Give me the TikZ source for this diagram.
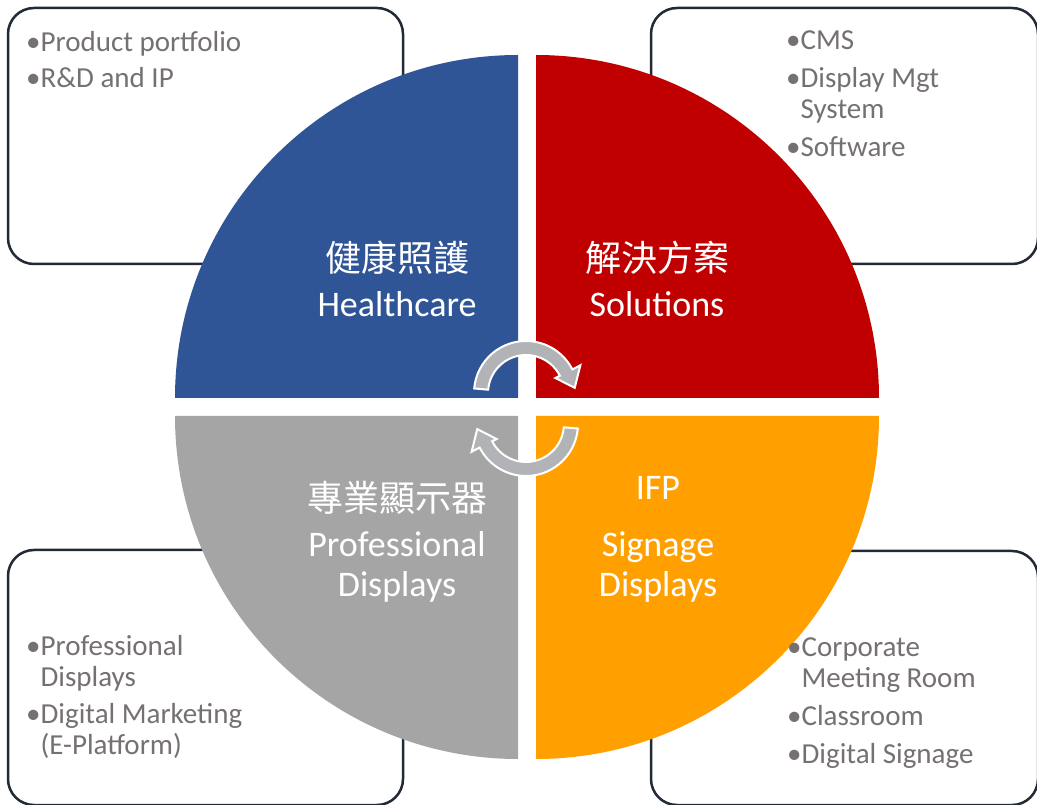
\documentclass[tikz,border=0pt]{standalone}
\usepackage{fontspec}
\setmainfont{Carlito}
\newfontfamily\cjkfont{Noto Sans CJK TC}
\usetikzlibrary{positioning}

\definecolor{hcBlue}{HTML}{2F5597}
\definecolor{solRed}{HTML}{C00000}
\definecolor{proGray}{HTML}{A5A5A5}
\definecolor{ifpOrange}{HTML}{FFA000}
\definecolor{boxLine}{HTML}{222A35}
\definecolor{itemGray}{HTML}{767171}
\definecolor{cycleGray}{HTML}{B1B3B6}

\tikzset{
  infobox/.style={draw=boxLine, line width=2.5pt, rounded corners=26pt, fill=white},
  itemtext/.style={text=itemGray, font=\fontsize{29}{31}\selectfont, align=left, anchor=base west, inner sep=0pt},
  titletext/.style={text=white, font=\fontsize{36}{40}\selectfont, align=center, anchor=base, inner sep=0pt},
  cyclearrow/.pic={
    \filldraw[fill=cycleGray, draw=white, line width=2pt]
      (175:52) arc[start angle=175, end angle=27, radius=52] -- (27:61) -- (6:49) -- (27:33)
      -- (27:38) arc[start angle=27, end angle=175, radius=38] -- cycle;
  }
}

\begin{document}
\begin{tikzpicture}[x=1pt, y=1pt]
\clip (0,0) rectangle (1037,804);

\draw[infobox] (8,540) rectangle (403,796);
\draw[infobox] (651,540) rectangle (1038,796);
\draw[infobox] (8,-1) rectangle (403,254);
\draw[infobox] (651,-1) rectangle (1038,253);

\fill[hcBlue] (518,406) -- (175,406) arc[start angle=180, end angle=90, radius=343] -- cycle;
\fill[solRed] (536,406) -- (536,749) arc[start angle=90, end angle=0, radius=343] -- cycle;
\fill[proGray] (518,388) -- (518,45) arc[start angle=270, end angle=180, radius=343] -- cycle;
\fill[ifpOrange] (536,388) -- (879,388) arc[start angle=0, end angle=-90, radius=343] -- cycle;

\pic at (526,411) {cyclearrow};
\pic[rotate=180] at (526,380) {cyclearrow};

\node[titletext] (HealthTitle) at (397,487) {{\cjkfont 健康照護}\\[5pt]Healthcare};
\node[titletext] (SolTitle) at (657,487) {{\cjkfont 解決方案}\\[5pt]Solutions};
\node[titletext] (ProTitle) at (397,207) {{\cjkfont 專業顯示器}\\[6pt]Professional\\Displays};
\node[titletext] (IfpTitle) at (658,207) {IFP\\[17pt]Signage\\Displays};

\node[itemtext] (HealthItems) at (26,716) {•Product portfolio\\[5pt]•R\&D and IP};
\node[itemtext] (SolItems) at (786,647) {•CMS\\[7pt]•Display Mgt\\\phantom{•}System\\[7pt]•Software};
\node[itemtext] (ProItems) at (26,49) {•Professional\\\phantom{•}Displays\\[7pt]•Digital Marketing\\\phantom{•}(E-Platform)};
\node[itemtext] (IfpItems) at (787,41) {•Corporate\\\phantom{•}Meeting Room\\[7pt]•Classroom\\[7pt]•Digital Signage};
\end{tikzpicture}
\end{document}
